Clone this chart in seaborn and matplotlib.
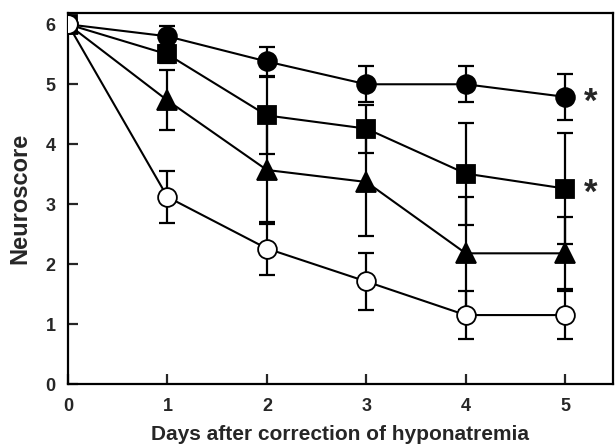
import pandas as pd
import matplotlib
matplotlib.use('Agg')
import matplotlib.pyplot as plt
import seaborn as sns

# data
days = [0, 1, 2, 3, 4, 5]
filled_circle = [6.0, 5.80, 5.38, 5.00, 5.00, 4.79]
filled_circle_err = [0, 0.17, 0.25, 0.30, 0.30, 0.38]
filled_square = [6.0, 5.50, 4.48, 4.26, 3.51, 3.26]
filled_square_err = [0, 0.15, 0.64, 0.40, 0.85, 0.92]
filled_triangle = [6.0, 4.73, 3.57, 3.37, 2.18, 2.18]
filled_triangle_err = [0, 0.50, 0.90, 0.90, 0.94, 0.60]
open_circle = [6.0, 3.12, 2.26, 1.71, 1.15, 1.15]
open_circle_err = [0, 0.44, 0.44, 0.48, 0.40, 0.40]
star_groups = ['filled_circle', 'filled_square']

sns.set_style('ticks')
plt.rcParams['font.family'] = ['Liberation Sans', 'DejaVu Sans']
plt.rcParams['font.weight'] = 'bold'

groups = {
    'filled_triangle': (filled_triangle, filled_triangle_err, '^', 'black', 14),
    'filled_square': (filled_square, filled_square_err, 's', 'black', 13),
    'filled_circle': (filled_circle, filled_circle_err, 'o', 'black', 13.5),
    'open_circle': (open_circle, open_circle_err, 'o', 'white', 13.5),
}

fig = plt.figure(figsize=(6.15, 4.46), dpi=100)
ax = fig.add_axes([0.1106, 0.139, 0.886, 0.832])

for i, (name, (vals, errs, mk, face, ms)) in enumerate(groups.items()):
    ax.errorbar(days, vals, yerr=errs, fmt='none', ecolor='black',
                elinewidth=1.6, capsize=5.5, capthick=1.6, zorder=2)
    df = pd.DataFrame({'day': days, 'score': vals})
    sns.lineplot(data=df, x='day', y='score', color='black', lw=1.5,
                 marker=mk, markersize=ms, markerfacecolor=face,
                 markeredgecolor='black', markeredgewidth=1.3,
                 ax=ax, zorder=3 + i)
    if name in star_groups:
        ax.annotate('*', (5.26, vals[-1]), xytext=(0, -10.5),
                    textcoords='offset points', fontsize=25,
                    fontweight='bold', ha='center', va='baseline')

ax.set_xlim(0, 5.48)
ax.set_ylim(0, 6.19)
ax.set_xticks(days)
ax.set_yticks([0, 1, 2, 3, 4, 5, 6])
ax.tick_params(direction='in', length=7, width=1.6, labelsize=13)
ax.tick_params(axis='x', pad=10)
ax.tick_params(axis='y', pad=9)
for lab in ax.get_xticklabels() + ax.get_yticklabels():
    lab.set_fontweight('bold')
for s in ax.spines.values():
    s.set_linewidth(1.6)
    s.set_color('black')
ax.set_xlabel('Days after correction of hyponatremia', fontsize=15,
              fontweight='bold', labelpad=7)
ax.set_ylabel('Neuroscore', fontsize=17, fontweight='bold', labelpad=10)

fig.savefig('out.png', dpi=100)
